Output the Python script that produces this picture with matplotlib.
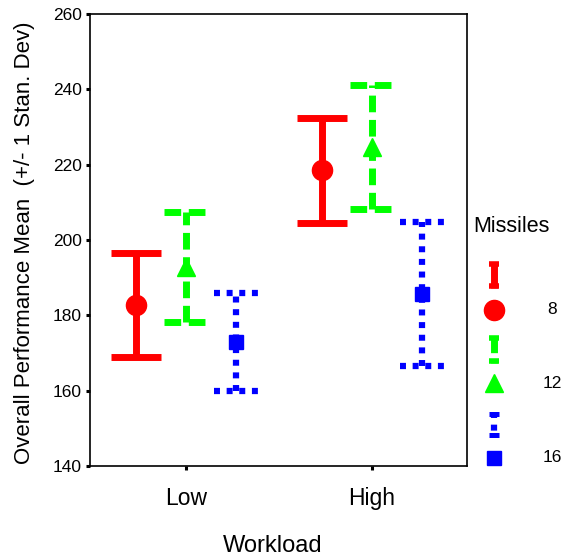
import matplotlib
matplotlib.use('Agg')
from matplotlib import pyplot as plt

#%% DATA
workload = ['Low', 'High']
missiles = ['8', '12', '16']
means_8 = [182.7, 218.5]
means_12 = [192.8, 224.6]
means_16 = [173.0, 185.6]
sd_8 = [13.8, 14.0]
sd_12 = [14.6, 16.5]
sd_16 = [13.0, 19.1]

#%% STYLE
plt.rcParams['font.family'] = ['Liberation Sans', 'DejaVu Sans']
plt.rcParams['lines.scale_dashes'] = False

colours = ['#ff0000', '#00ff00', '#0000ff']
styles = ['-', (0, (12, 5.5)), (0, (4.3, 4.8))]
widths = [5, 5, 4.5]
markers = ['o', '^', 's']
msizes = [14.5, 13, 9.5]
offsets = [-0.27, 0.0, 0.27]
cap_half = [0.135, 0.12, 0.12]

means = [means_8, means_12, means_16]
sds = [sd_8, sd_12, sd_16]

fig = plt.figure(figsize=(5.63, 5.59), dpi=100)
ax = fig.add_axes([90 / 563, 93 / 559, 377 / 563, 452 / 559])

xpos = [1, 2]
for k in range(len(missiles)):
    for i in range(len(workload)):
        x = xpos[i] + offsets[k]
        lo = means[k][i] - sds[k][i]
        hi = means[k][i] + sds[k][i]
        # stem
        ax.plot([x, x], [lo, hi], color=colours[k], lw=widths[k],
                linestyle=styles[k], solid_capstyle='butt',
                dash_capstyle='butt')
        # caps
        for yy in (lo, hi):
            ax.plot([x - cap_half[k], x + cap_half[k]], [yy, yy],
                    color=colours[k], lw=widths[k], linestyle=styles[k],
                    solid_capstyle='butt', dash_capstyle='butt')
        ax.plot(x, means[k][i], marker=markers[k], ms=msizes[k],
                color=colours[k], mec=colours[k], linestyle='none')

ax.set_xlim(0.484, 2.511)
ax.set_ylim(140, 260)
ax.set_xticks(xpos)
ax.set_xticklabels(workload, fontsize=16.5)
ax.set_yticks(range(140, 261, 20))
ax.tick_params(axis='y', labelsize=12.5, direction='out', length=3,
               width=2.2, pad=3)
ax.tick_params(axis='x', direction='out', length=3, width=2.2, pad=12)
for s in ax.spines.values():
    s.set_linewidth(1.2)

fig.text(25 / 563, 1 - 243 / 559, 'Overall Performance Mean  (+/- 1 Stan. Dev)',
         rotation=90, ha='center', va='center', fontsize=16)
fig.text(273 / 563, 1 - 546 / 559, 'Workload', ha='center', va='center',
         fontsize=17)

#%% LEGEND (drawn by hand in its own axes, pixel coordinates)
lax = fig.add_axes([470 / 563, 1 - 480 / 559, 93 / 563, 280 / 559])
lax.set_xlim(470, 563)
lax.set_ylim(480, 200)
lax.axis('off')

fig.text(473 / 563, 1 - 226 / 559, 'Missiles', ha='left', va='center',
         fontsize=15.5)
sym_top = [262, 336, 412]
sym_bot = [288, 363, 437]
mark_y = [310, 383, 458]
for k in range(len(missiles)):
    lax.plot([494, 494], [sym_top[k], sym_bot[k]], color=colours[k],
             lw=widths[k], linestyle=styles[k], solid_capstyle='butt',
             dash_capstyle='butt')
    for yy in (sym_top[k] + 2, sym_bot[k] - 2):
        lax.plot([489, 499], [yy, yy], color=colours[k], lw=widths[k] * 0.8,
                 linestyle='-', solid_capstyle='butt')
    lax.plot(494, mark_y[k], marker=markers[k], ms=msizes[k],
             color=colours[k], linestyle='none')
    lax.text(552, mark_y[k], missiles[k], ha='center', va='center',
             fontsize=12.5)

fig.savefig('out.png', dpi=100)
